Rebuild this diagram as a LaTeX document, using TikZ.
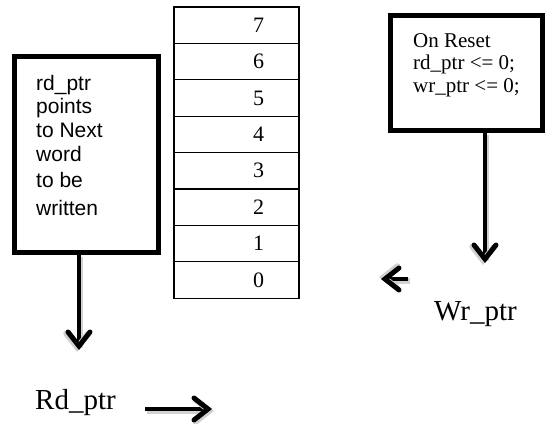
\documentclass[tikz,border=0pt]{standalone}
\usepackage{fontspec}
\setmainfont{Liberation Serif}
\newfontfamily\notesans{Liberation Sans}

\tikzset{
  slot/.style={draw, line width=1.3pt, minimum width=125pt, minimum height=36.4pt,
    inner sep=0pt},
  slotnum/.style={inner sep=0pt, font=\fontsize{22}{22}\selectfont},
  notebox/.style={draw, line width=4.6pt, inner sep=0pt},
  boxline/.style={anchor=base west, inner sep=0pt},
  shaft/.style={line width=4.8pt,
    preaction={draw=black!18, line width=5.5pt, transform canvas={shift={(1.5pt,-2pt)}}}},
  barb/.pic={
    \draw[black!18, line width=5.5pt, line cap=round, line join=miter]
      (-14pt,11pt) ++(1.5pt,-2pt) -- ++(14pt,-11pt) -- ++(-14pt,-11pt);
    \draw[line width=5pt, line cap=round, line join=miter]
      (-14pt,11pt) -- (0,0) -- (-14pt,-11pt);
  },
  ptrlabel/.style={anchor=base west, inner sep=0pt, font=\fontsize{29}{29}\selectfont}
}

\begin{document}
\begin{tikzpicture}[x=1pt, y=-1pt]
  \useasboundingbox (0,0) rectangle (546,423);

  % memory array, locations 7 (top) down to 0
  \foreach \i in {0,...,7} {
    \node[slot] (m\i) at (236.5, {7 + 18.2 + (7-\i)*36.4}) {};
    \node[slotnum] (n\i) at ([xshift=22pt]m\i.center) {\i};
  }

  % left note box
  \node[notebox, minimum width=144.5pt, minimum height=196.5pt] (lbox) at (86.5, 154.5) {};
  \begin{scope}[every node/.style={boxline, font=\notesans\fontsize{21}{21}\selectfont}]
    \node (l1) at (36, 90)  {rd\_ptr};
    \node (l2) at (36, 113) {points};
    \node (l3) at (36, 137) {to Next};
    \node (l4) at (36, 161) {word};
    \node (l5) at (36, 187) {to be};
    \node (l6) at (36, 215) {written};
  \end{scope}

  % reset note box
  \node[notebox, minimum width=152pt, minimum height=115pt] (rbox) at (466.5, 73) {};
  \begin{scope}[every node/.style={boxline, font=\fontsize{21}{21}\selectfont}]
    \node (r1) at (413, 47) {On Reset};
    \node (r2) at (413, 69.5) {rd\_ptr <= 0;};
    \node (r3) at (413, 92) {wr\_ptr <= 0;};
  \end{scope}

  % pointer arrows: shaft plus chevron head
  \coordinate (ltip) at (79, 346);
  \draw[shaft] (lbox.south -| ltip) -- (ltip);
  \pic[rotate=-90] at (ltip) {barb};

  \coordinate (rtip) at (485, 259);
  \draw[shaft] (rbox.south -| rtip) -- (rtip);
  \pic[rotate=-90] at (rtip) {barb};

  \coordinate (wtail) at (408, 279);
  \coordinate (wtip) at (385, 279);
  \draw[shaft] (wtail) -- (wtip);
  \pic[rotate=180] at (wtip) {barb};

  \node[ptrlabel] (wr) at (434, 320) {Wr\_ptr};
  \node[ptrlabel] (rd) at (35, 409) {Rd\_ptr};

  \coordinate (rdtail) at (145, 409);
  \coordinate (rdtip) at (208, 409);
  \draw[shaft] (rdtail) -- (rdtip);
  \pic at (rdtip) {barb};
\end{tikzpicture}
\end{document}
